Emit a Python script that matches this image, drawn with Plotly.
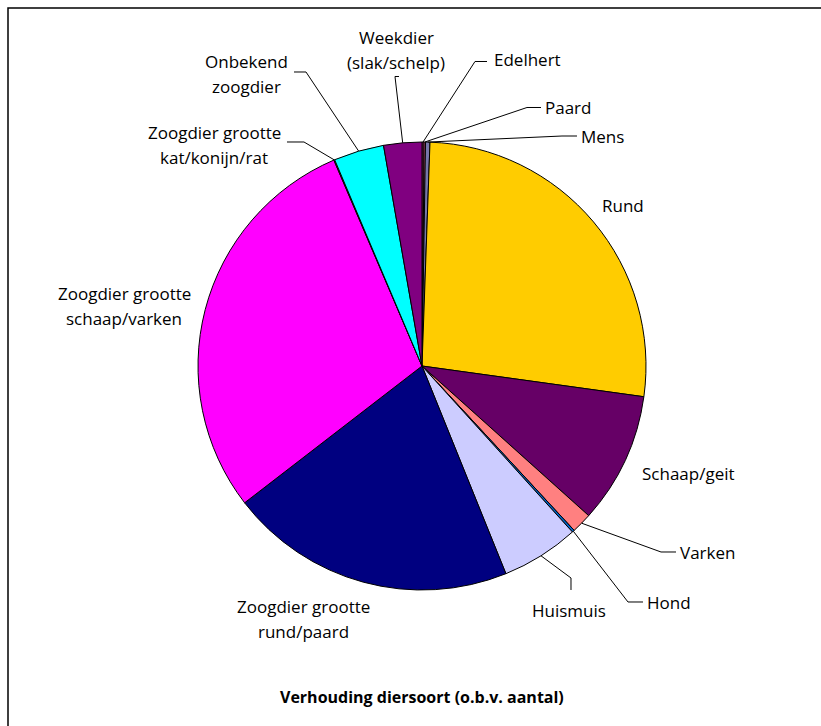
import math
import plotly.graph_objects as go

# ---- data (percent of count) ----
labels = ["Edelhert", "Paard", "Mens", "Rund", "Schaap/geit", "Varken", "Hond",
          "Huismuis", "Zoogdier grootte rund/paard", "Zoogdier grootte schaap/varken",
          "Zoogdier grootte kat/konijn/rat", "Onbekend zoogdier", "Weekdier (slak/schelp)"]
values = [0.15, 0.10, 0.32, 26.64, 9.46, 1.47, 0.17, 5.61, 20.67, 29.04, 0.06, 3.63, 2.75]
colors = ["#993366", "#FF6699", "#7777AA", "#FFCC00", "#660066", "#FF8080", "#0066CC",
          "#CCCCFF", "#000080", "#FF00FF", "#FFFF00", "#00FFFF", "#800080"]
title_text = "Verhouding diersoort (o.b.v. aantal)"

W, H = 821, 726
CX, CY, R = 422, 366, 224
FONT = "Open Sans"


def px(x):
    return x / W


def py(y):
    return 1 - y / H


fig = go.Figure(go.Pie(
    labels=labels, values=values, sort=False, direction="clockwise", rotation=0,
    marker=dict(colors=colors, line=dict(color="black", width=1)),
    textinfo="none", hoverinfo="label+percent", showlegend=False,
    domain=dict(x=[px(CX - R), px(CX + R)], y=[py(CY + R), py(CY - R)]),
))

# mid angle of each slice (degrees clockwise from 12 o'clock), from the data
total = sum(values)
mid = {}
acc = 0.0
for lab, v in zip(labels, values):
    mid[lab] = (acc + v / 2) / total * 360
    acc += v


def edge(lab):
    a = math.radians(mid[lab])
    return CX + R * math.sin(a), CY - R * math.cos(a)


annotations = []
shapes = []


def text(lines, x, y, anchor="center", dy=25.5):
    n = len(lines)
    for i, t in enumerate(lines):
        yy = y + (i - (n - 1) / 2) * dy
        annotations.append(dict(
            text=t, x=px(x), y=py(yy), xref="paper", yref="paper",
            showarrow=False, xanchor=anchor, yanchor="middle",
            font=dict(family=FONT, size=17, color="black")))


def leader(lab, pts):
    ex, ey = edge(lab)
    allp = pts + [(ex, ey)]
    path = "M " + " L ".join(f"{px(a):.5f},{py(b):.5f}" for a, b in allp)
    shapes.append(dict(type="path", path=path, xref="paper", yref="paper",
                       line=dict(color="black", width=1)))


# labels (positions are layout only)
text(["Weekdier", "(slak/schelp)"], 396, 50)
leader("Weekdier (slak/schelp)", [(399, 76.5), (395, 76.5)])
text(["Edelhert"], 492, 60, "left")
leader("Edelhert", [(487, 61.5), (475, 61.5)])
text(["Paard"], 543, 107, "left")
leader("Paard", [(541, 107.5), (527, 107.5)])
text(["Mens"], 579, 136, "left")
leader("Mens", [(577, 136), (562, 136)])
text(["Onbekend", "zoogdier"], 246, 74)
leader("Onbekend zoogdier", [(294, 72), (306, 72)])
text(["Zoogdier grootte", "kat/konijn/rat"], 214, 145)
leader("Zoogdier grootte kat/konijn/rat", [(287, 142), (304, 142)])
text(["Rund"], 623, 205)
text(["Schaap/geit"], 688, 473)
text(["Varken"], 678, 552, "left")
leader("Varken", [(676, 552), (661, 552)])
text(["Hond"], 645, 602, "left")
leader("Hond", [(643, 602), (628, 602)])
text(["Huismuis"], 569, 610)
leader("Huismuis", [(571, 590), (571, 578)])
text(["Zoogdier grootte", "rund/paard"], 303, 619)
text(["Zoogdier grootte", "schaap/varken"], 124, 306)

annotations.append(dict(
    text="<b>" + title_text + "</b>", x=px(422), y=py(697), xref="paper", yref="paper",
    showarrow=False, xanchor="center", yanchor="middle",
    font=dict(family=FONT, size=16, color="black")))

# chart area border
shapes.append(dict(type="rect", xref="paper", yref="paper",
                   x0=px(8), x1=px(W + 20), y0=py(H + 20), y1=py(8),
                   line=dict(color="black", width=1.5), fillcolor="rgba(0,0,0,0)"))

fig.update_layout(
    width=W, height=H, autosize=False,
    margin=dict(l=0, r=0, t=0, b=0),
    paper_bgcolor="white", plot_bgcolor="white",
    annotations=annotations, shapes=shapes,
)

fig.write_html("out.html", config={"displayModeBar": False},
               post_script="document.body.style.margin='0';document.body.style.overflow='hidden';")
